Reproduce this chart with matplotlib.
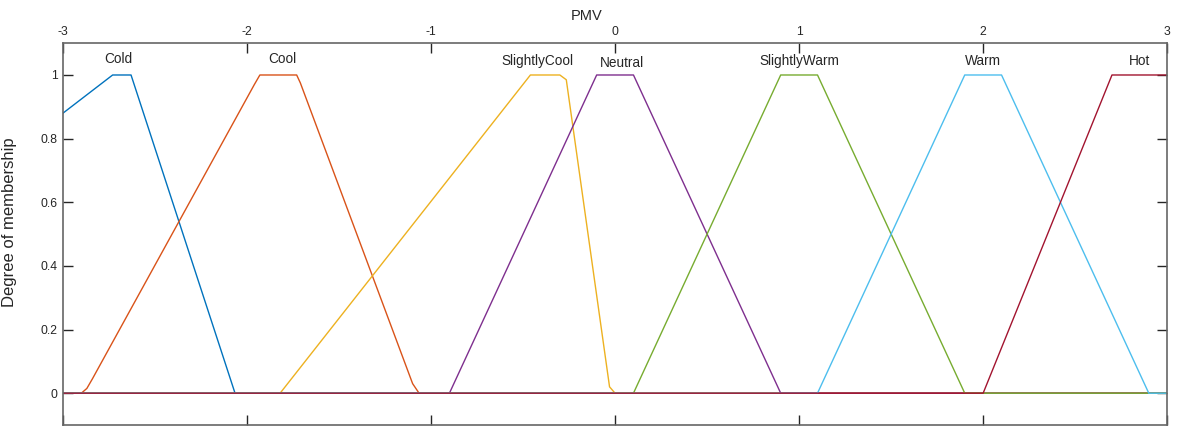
import matplotlib
matplotlib.use('Agg')
import matplotlib.pyplot as plt

plt.rcParams['font.family'] = ['Liberation Sans', 'DejaVu Sans']

# membership functions of PMV (breakpoints)
mf_names = ['Cold', 'Cool', 'SlightlyCool', 'Neutral', 'SlightlyWarm', 'Warm', 'Hot']

cold_x = [-3, -2.73, -2.63, -2.065, 3]
cold_y = [0.88, 1, 1, 0, 0]

cool_x = [-3, -2.9, -2.87, -2.84, -1.96, -1.93, -1.73, -1.71, -1.10, -1.065, 3]
cool_y = [0, 0, 0.015, 0.045, 0.97, 1, 1, 0.975, 0.03, 0, 0]

scool_x = [-3, -1.82, -0.46, -0.30, -0.265, -0.03, 0.0, 3]
scool_y = [0, 0, 1, 1, 0.985, 0.02, 0, 0]

neutral_x = [-3, -0.9, -0.1, 0.1, 0.9, 3]
neutral_y = [0, 0, 1, 1, 0, 0]

swarm_x = [-3, 0.1, 0.9, 1.1, 1.9, 3]
swarm_y = [0, 0, 1, 1, 0, 0]

warm_x = [-3, 1.1, 1.9, 2.1, 2.9, 3]
warm_y = [0, 0, 1, 1, 0, 0]

hot_x = [-3, 2.0, 2.7, 3]
hot_y = [0, 0, 1, 1]

# label anchor points (x, y) above each function
label_x = [-2.70, -1.81, -0.42, 0.04, 1.0, 2.0, 2.85]
label_y = [1.05, 1.05, 1.045, 1.038, 1.045, 1.045, 1.045]

xticks = [-3, -2, -1, 0, 1, 2, 3]
yticks = [0, 0.2, 0.4, 0.6, 0.8, 1]

colors = ['#0072BD', '#D95319', '#EDB120', '#7E2F8E', '#77AC30', '#4DBEEE', '#A2142F']

curves = [(cold_x, cold_y), (cool_x, cool_y), (scool_x, scool_y),
          (neutral_x, neutral_y), (swarm_x, swarm_y), (warm_x, warm_y),
          (hot_x, hot_y)]

fig = plt.figure(figsize=(11.81, 4.30), dpi=100)
ax = fig.add_axes([0.0533, 0.0116, 0.935, 0.888])

for (xs, ys), c in zip(curves, colors):
    ax.plot(xs, ys, color=c, linewidth=1.0)

for name, lx, ly in zip(mf_names, label_x, label_y):
    ax.text(lx, ly, name, ha='center', va='center', fontsize=9.8, color='#262626')

ax.set_xlim(-3, 3)
ax.set_ylim(-0.1, 1.1)

ax.set_xticks(xticks)
ax.set_xticklabels([str(t) for t in xticks])
ax.set_yticks(yticks)
ax.set_yticklabels(['0', '0.2', '0.4', '0.6', '0.8', '1'])

ax.tick_params(axis='both', which='both', direction='in', length=7, width=1,
               colors='#262626', labelsize=8.7, pad=4,
               top=True, bottom=True, left=True, right=True,
               labeltop=True, labelbottom=False, labelleft=True, labelright=False)

for s in ax.spines.values():
    s.set_color('#666666')
    s.set_linewidth(1.2)

ax.xaxis.set_label_position('top')
ax.set_xlabel('PMV', fontsize=10.5, color='#262626')
ax.xaxis.set_label_coords(0.474, 1.06)
ax.set_ylabel('Degree of membership', fontsize=12, color='#262626')
ax.yaxis.set_label_coords(-0.042, 0.53)

fig.savefig('out.png', dpi=100)
